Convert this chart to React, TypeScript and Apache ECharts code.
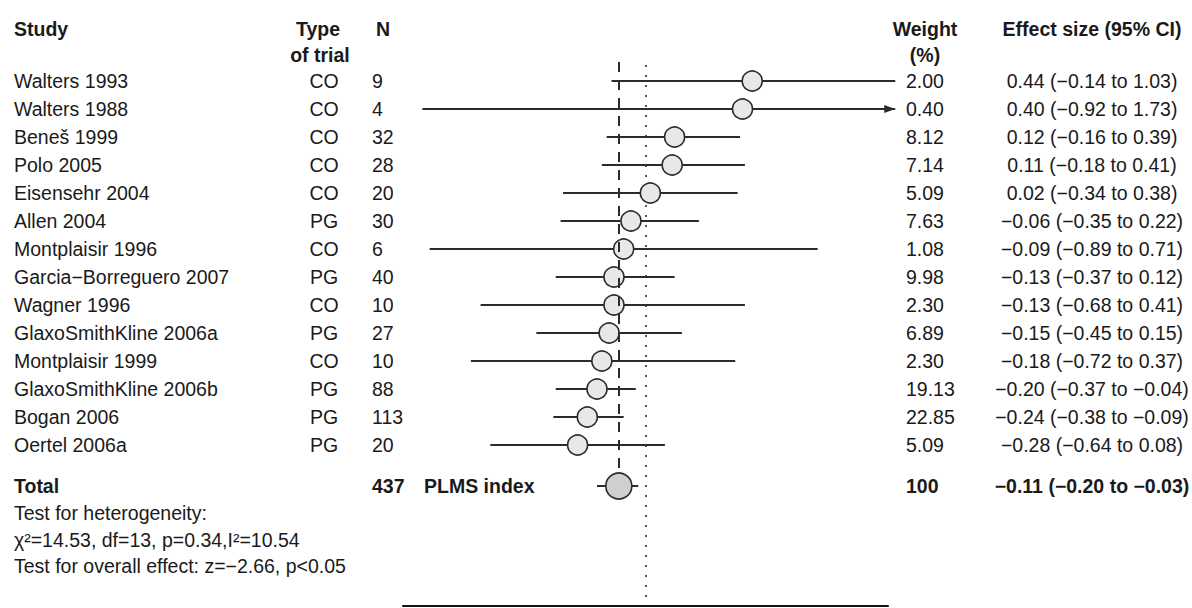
import React, { useEffect, useRef } from "react";
import * as echarts from "echarts";

// ---------- data ----------
const studies = [
  "Walters 1993",
  "Walters 1988",
  "Beneš 1999",
  "Polo 2005",
  "Eisensehr 2004",
  "Allen 2004",
  "Montplaisir 1996",
  "Garcia\u2212Borreguero 2007",
  "Wagner 1996",
  "GlaxoSmithKline 2006a",
  "Montplaisir 1999",
  "GlaxoSmithKline 2006b",
  "Bogan 2006",
  "Oertel 2006a",
];
const trialTypes = ["CO", "CO", "CO", "CO", "CO", "PG", "CO", "PG", "CO", "PG", "CO", "PG", "PG", "PG"];
const sampleSizes = [9, 4, 32, 28, 20, 30, 6, 40, 10, 27, 10, 88, 113, 20];
const weights = [2.0, 0.4, 8.12, 7.14, 5.09, 7.63, 1.08, 9.98, 2.3, 6.89, 2.3, 19.13, 22.85, 5.09];
const effects = [0.44, 0.4, 0.12, 0.11, 0.02, -0.06, -0.09, -0.13, -0.13, -0.15, -0.18, -0.2, -0.24, -0.28];
const ciLower = [-0.14, -0.92, -0.16, -0.18, -0.34, -0.35, -0.89, -0.37, -0.68, -0.45, -0.72, -0.37, -0.38, -0.64];
const ciUpper = [1.03, 1.73, 0.39, 0.41, 0.38, 0.22, 0.71, 0.12, 0.41, 0.15, 0.37, -0.04, -0.09, 0.08];

const totalLabel = "Total";
const totalN = 437;
const totalWeight = 100;
const totalEffect = -0.11;
const totalLower = -0.2;
const totalUpper = -0.03;
const outcomeLabel = "PLMS index";

const footnotes = [
  "Test for heterogeneity:",
  "\u03c7\u00b2=14.53, df=13, p=0.34,I\u00b2=10.54",
  "Test for overall effect: z=\u22122.66, p<0.05",
];

// ---------- layout ----------
const W = 1192;
const H = 608;
const ROW_PX = 28;
const FIRST_ROW_PX = 81;
const GRID_H = 606;
const Y_MIN = -FIRST_ROW_PX / ROW_PX;
const Y_MAX = Y_MIN + GRID_H / ROW_PX;
const TOTAL_ROW = (486 - FIRST_ROW_PX) / ROW_PX;
const ARROW_LIMIT = 1.03;
const FONT = '"Liberation Sans", Arial, Helvetica, sans-serif';
const FS = 19.5;
const TEXT_COLOR = "#1a1a1a";
const LINE_COLOR = "#2b2b2b";

const X_STUDY = 14;
const X_TYPE = 324;
const X_N = 372;
const X_PLMS = 424;
const X_WEIGHT = 906;
const X_EFFECT = 1092;

const fmt = (v: number) => (v < 0 ? "\u2212" : "") + Math.abs(v).toFixed(2);
const effectText = (e: number, lo: number, hi: number) => `${fmt(e)} (${fmt(lo)} to ${fmt(hi)})`;

const rows = studies.map((_, i) => i);

function textSeries(x: number, rowIdx: number[], texts: string[], align: string, bold = false) {
  return {
    type: "custom",
    xAxisIndex: 0,
    yAxisIndex: 0,
    silent: true,
    clip: false,
    z: 5,
    data: rowIdx.map((r) => [x, r]),
    encode: { x: 0, y: 1 },
    renderItem: (params: any, api: any) => {
      const p = api.coord([api.value(0), api.value(1)]);
      return {
        type: "text",
        x: p[0],
        y: p[1],
        style: {
          text: texts[params.dataIndex],
          fill: TEXT_COLOR,
          font: `${bold ? "bold " : ""}${FS}px ${FONT}`,
          align,
          verticalAlign: "middle",
        },
      };
    },
  };
}

export default function App() {
  const ref = useRef<HTMLDivElement>(null);

  useEffect(() => {
    document.body.style.margin = "0";
    if (!ref.current) return;
    const chart = echarts.init(ref.current, null, { renderer: "svg" });

    const ciData = studies.map((_, i) => [ciLower[i], ciUpper[i], i]);
    ciData.push([totalLower, totalUpper, TOTAL_ROW]);

    const headerText = (text: string, x: number, y: number, align: string) => ({
      type: "text",
      x,
      y,
      style: {
        text,
        fill: TEXT_COLOR,
        font: `bold ${FS}px ${FONT}`,
        align,
        verticalAlign: "middle",
      },
    });

    const option: any = {
      animation: false,
      grid: [
        { left: 0, top: 0, width: W, height: GRID_H },
        { left: 403, top: 0, width: 485, height: GRID_H },
      ],
      xAxis: [
        { gridIndex: 0, type: "value", min: 0, max: W, show: false },
        {
          gridIndex: 1,
          type: "value",
          min: -1,
          max: 1,
          axisLine: { show: true, onZero: false, lineStyle: { color: "#111", width: 2 } },
          axisTick: { show: false },
          axisLabel: { show: false },
          splitLine: { show: false },
        },
      ],
      yAxis: [
        { gridIndex: 0, type: "value", inverse: true, min: Y_MIN, max: Y_MAX, show: false },
        { gridIndex: 1, type: "value", inverse: true, min: Y_MIN, max: Y_MAX, show: false },
      ],
      graphic: [
        headerText("Study", X_STUDY, 29, "left"),
        headerText("Type", 318, 29, "center"),
        headerText("of trial", 320, 55, "center"),
        headerText("N", X_N + 4, 29, "left"),
        headerText("Weight", 925, 29, "center"),
        headerText("(%)", 925, 55, "center"),
        headerText("Effect size (95% CI)", X_EFFECT, 29, "center"),
        ...footnotes.map((t, i) => ({
          type: "text",
          x: X_STUDY,
          y: 513 + i * 26.5,
          style: { text: t, fill: TEXT_COLOR, font: `${FS}px ${FONT}`, align: "left", verticalAlign: "middle" },
        })),
      ],
      series: [
        // reference line at zero (dotted)
        {
          type: "lines",
          coordinateSystem: "cartesian2d",
          xAxisIndex: 1,
          yAxisIndex: 1,
          silent: true,
          z: 1,
          lineStyle: { color: "#555", width: 2, type: [2, 8], opacity: 1 },
          data: [{ coords: [[0, (65 - FIRST_ROW_PX) / ROW_PX], [0, (603 - FIRST_ROW_PX) / ROW_PX]] }],
        },
        // CI whiskers
        {
          type: "custom",
          xAxisIndex: 1,
          yAxisIndex: 1,
          silent: true,
          clip: false,
          z: 2,
          data: ciData,
          encode: { x: [0, 1], y: 2 },
          renderItem: (params: any, api: any) => {
            const lo = api.value(0);
            const hi = api.value(1);
            const row = api.value(2);
            const end = Math.min(hi, ARROW_LIMIT);
            const p1 = api.coord([lo, row]);
            const p2 = api.coord([end, row]);
            const children: any[] = [
              {
                type: "line",
                shape: { x1: p1[0], y1: p1[1], x2: p2[0], y2: p2[1] },
                style: { stroke: LINE_COLOR, lineWidth: 2 },
              },
            ];
            if (hi > ARROW_LIMIT) {
              children.push({
                type: "polygon",
                shape: { points: [[p2[0], p2[1]], [p2[0] - 11, p2[1] - 4], [p2[0] - 11, p2[1] + 4]] },
                style: { fill: LINE_COLOR },
              });
            }
            return { type: "group", children };
          },
        },
        // study point estimates
        {
          type: "scatter",
          xAxisIndex: 1,
          yAxisIndex: 1,
          silent: true,
          z: 3,
          symbol: "circle",
          symbolSize: 20,
          itemStyle: { color: "#e8e8e8", borderColor: LINE_COLOR, borderWidth: 1.6, opacity: 1 },
          data: effects.map((e, i) => [e, i]),
        },
        // overall estimate
        {
          type: "scatter",
          xAxisIndex: 1,
          yAxisIndex: 1,
          silent: true,
          z: 3,
          symbol: "circle",
          symbolSize: 26,
          itemStyle: { color: "#cfcfcf", borderColor: LINE_COLOR, borderWidth: 1.6, opacity: 1 },
          data: [[totalEffect, TOTAL_ROW]],
        },
        // overall effect line (dashed)
        {
          type: "lines",
          coordinateSystem: "cartesian2d",
          xAxisIndex: 1,
          yAxisIndex: 1,
          silent: true,
          z: 4,
          lineStyle: { color: LINE_COLOR, width: 2, type: [10, 8], opacity: 1 },
          data: [{ coords: [[totalEffect, (62 - FIRST_ROW_PX) / ROW_PX], [totalEffect, TOTAL_ROW - 0.45]] }],
        },
        // text columns
        textSeries(X_STUDY, rows, studies, "left"),
        textSeries(X_TYPE, rows, trialTypes, "center"),
        textSeries(X_N, rows, sampleSizes.map(String), "left"),
        textSeries(X_WEIGHT, rows, weights.map((w) => w.toFixed(2)), "left"),
        textSeries(
          X_EFFECT,
          rows,
          effects.map((e, i) => effectText(e, ciLower[i], ciUpper[i])),
          "center"
        ),
        // total row
        textSeries(X_STUDY, [TOTAL_ROW], [totalLabel], "left", true),
        textSeries(X_N, [TOTAL_ROW], [String(totalN)], "left", true),
        textSeries(X_PLMS, [TOTAL_ROW], [outcomeLabel], "left", true),
        textSeries(X_WEIGHT, [TOTAL_ROW], [String(totalWeight)], "left", true),
        textSeries(X_EFFECT, [TOTAL_ROW], [effectText(totalEffect, totalLower, totalUpper)], "center", true),
      ],
    };

    chart.setOption(option);
    return () => chart.dispose();
  }, []);

  return <div ref={ref} style={{ width: W, height: H }} />;
}
